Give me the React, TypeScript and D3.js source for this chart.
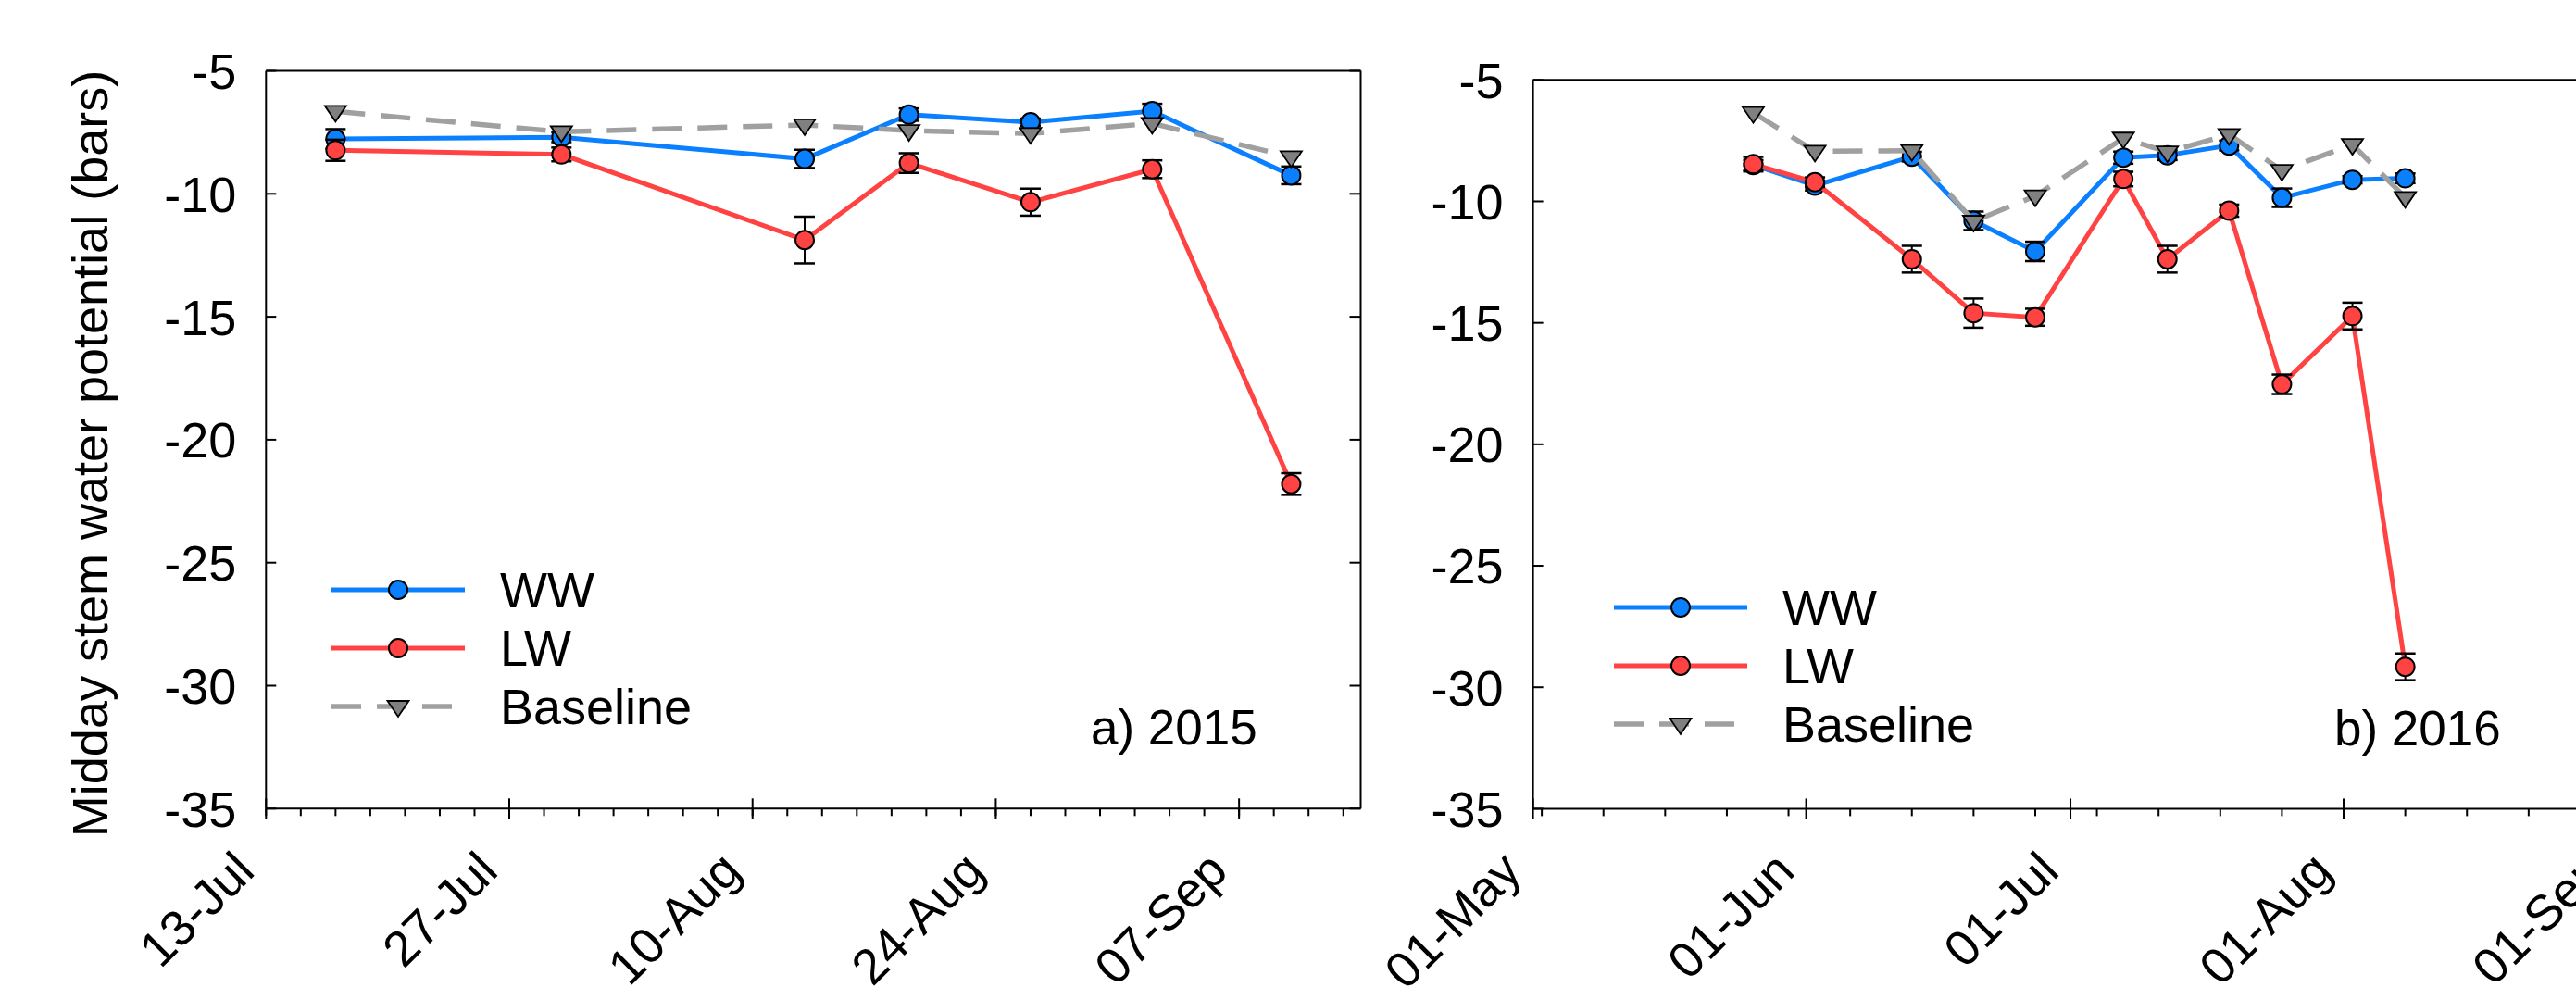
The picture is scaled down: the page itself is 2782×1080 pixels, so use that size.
import React from "react";
import * as d3 from "d3";

const W = 2782;
const H = 1080;
const FONT = "'Liberation Sans', Arial, Helvetica, sans-serif";

const parse = d3.timeParse("%Y-%m-%d");
const fmt = d3.timeFormat("%d-%b");

// 2015 season
const dates2015 = ["2015-07-17", "2015-07-30", "2015-08-13", "2015-08-19", "2015-08-26", "2015-09-02", "2015-09-10"];
const ww2015 = [-7.77, -7.7, -8.58, -6.78, -7.09, -6.64, -9.25];
const ww2015Err = [0.4, 0.2, 0.37, 0.25, 0.15, 0.3, 0.36];
const lw2015 = [-8.23, -8.4, -11.88, -8.75, -10.34, -9.0, -21.8];
const lw2015Err = [0.43, 0.28, 0.95, 0.4, 0.55, 0.36, 0.44];
const base2015 = [-6.65, -7.48, -7.2, -7.43, -7.55, -7.14, -8.5];

// 2016 season
const dates2016 = ["2016-05-26", "2016-06-02", "2016-06-13", "2016-06-20", "2016-06-27", "2016-07-07", "2016-07-12", "2016-07-19", "2016-07-25", "2016-08-02", "2016-08-08"];
const ww2016 = [-8.5, -9.35, -8.16, -10.8, -12.06, -8.2, -8.1, -7.7, -9.85, -9.11, -9.05];
const ww2016Err = [0.2, 0.2, 0.2, 0.38, 0.4, 0.25, 0.2, 0.2, 0.38, 0.15, 0.2];
const lw2016 = [-8.47, -9.21, -12.38, -14.6, -14.77, -9.08, -12.38, -10.38, -17.53, -14.72, -29.16];
const lw2016Err = [0.3, 0.2, 0.55, 0.6, 0.35, 0.3, 0.55, 0.25, 0.4, 0.55, 0.55];
const base2016 = [-6.35, -7.94, -7.91, -10.82, -9.78, -7.4, -7.97, -7.25, -8.73, -7.66, -9.84];

const yTicks = [-35, -30, -25, -20, -15, -10, -5];
const legendNames = ["WW", "LW", "Baseline"];
const yTitle = "Midday stem water potential (bars)";

const WW_COLOR = "#0A80FF";
const LW_COLOR = "#FF4242";
const BASE_COLOR = "#A0A0A0";

type PanelCfg = {
  dates: Date[];
  ww: number[];
  wwErr: number[];
  lw: number[];
  lwErr: number[];
  base: number[];
  domain: [Date, Date];
  major: Date[];
  minor: Date[];
  x0: number;
  x1: number;
  yTop: number;
  yBot: number;
  rightAxis: boolean;
  label: string;
  labelPos: [number, number];
  legendPos: [number, number];
};

const tri = "M-11.5,-6L11.5,-6L0,11Z";

function Panel({ p }: { p: PanelCfg }) {
  const x = d3.scaleTime().domain(p.domain).range([p.x0, p.x1]);
  const y = d3.scaleLinear().domain([-35, -5]).range([p.yBot, p.yTop]);

  const series = [
    { vals: p.ww, err: p.wwErr, color: WW_COLOR, width: 5, dash: null, marker: "circle" },
    { vals: p.lw, err: p.lwErr, color: LW_COLOR, width: 5, dash: null, marker: "circle" },
    { vals: p.base, err: null, color: BASE_COLOR, width: 5.5, dash: "32 17", marker: "tri" },
  ];

  const [lx, ly] = p.legendPos;

  return (
    <g>
      {/* frame */}
      <line x1={p.x0} x2={p.x0} y1={p.yTop} y2={p.yBot} stroke="#000" strokeWidth={2} />
      <line x1={p.x0} x2={p.x1} y1={p.yTop} y2={p.yTop} stroke="#000" strokeWidth={2} />
      <line x1={p.x0} x2={p.x1} y1={p.yBot} y2={p.yBot} stroke="#000" strokeWidth={2} />
      {p.rightAxis && <line x1={p.x1} x2={p.x1} y1={p.yTop} y2={p.yBot} stroke="#000" strokeWidth={2} />}

      {/* y ticks */}
      {yTicks.map((t) => (
        <g key={"y" + t}>
          <line x1={p.x0} x2={p.x0 + 11} y1={y(t)} y2={y(t)} stroke="#000" strokeWidth={2} />
          {p.rightAxis && <line x1={p.x1 - 12} x2={p.x1} y1={y(t)} y2={y(t)} stroke="#000" strokeWidth={2} />}
          <text x={p.x0 - 32} y={y(t)} dy="0.36em" textAnchor="end" fontSize={54} fontFamily={FONT}>
            {t}
          </text>
        </g>
      ))}

      {/* x ticks */}
      {p.minor.map((d, i) => (
        <line key={"m" + i} x1={x(d)} x2={x(d)} y1={p.yBot} y2={p.yBot + 8} stroke="#000" strokeWidth={2} />
      ))}
      {p.major.map((d, i) => (
        <g key={"M" + i}>
          <line x1={x(d)} x2={x(d)} y1={p.yBot - 11} y2={p.yBot + 11} stroke="#000" strokeWidth={2} />
          <text
            transform={`translate(${x(d) - 10},${p.yBot + 70}) rotate(-45)`}
            textAnchor="end"
            fontSize={54}
            fontFamily={FONT}
          >
            {fmt(d)}
          </text>
        </g>
      ))}

      {/* series */}
      {series.map((s, si) => {
        const path = d3
          .line<number>()
          .x((_, i) => x(p.dates[i]))
          .y((v) => y(v))(s.vals);
        return (
          <g key={"s" + si}>
            <path d={path || ""} fill="none" stroke={s.color} strokeWidth={s.width} strokeDasharray={s.dash || undefined} />
            {s.err &&
              s.vals.map((v, i) => {
                const cx = x(p.dates[i]);
                const e = s.err![i];
                return (
                  <g key={"e" + i} stroke="#000">
                    <line x1={cx} x2={cx} y1={y(v + e)} y2={y(v - e)} strokeWidth={2} />
                    <line x1={cx - 11} x2={cx + 11} y1={y(v + e)} y2={y(v + e)} strokeWidth={2.5} />
                    <line x1={cx - 11} x2={cx + 11} y1={y(v - e)} y2={y(v - e)} strokeWidth={2.5} />
                  </g>
                );
              })}
            {s.vals.map((v, i) =>
              s.marker === "circle" ? (
                <circle key={"c" + i} cx={x(p.dates[i])} cy={y(v)} r={10} fill={s.color} stroke="#000" strokeWidth={2} />
              ) : (
                <path key={"t" + i} d={tri} transform={`translate(${x(p.dates[i])},${y(v)})`} fill="#808080" stroke="#000" strokeWidth={1.8} />
              )
            )}
          </g>
        );
      })}

      {/* legend */}
      {series.map((s, i) => {
        const yy = ly + i * 63;
        const len = s.dash ? 130 : 144;
        return (
          <g key={"l" + i}>
            <line x1={lx} x2={lx + len} y1={yy} y2={yy} stroke={s.color} strokeWidth={s.width} strokeDasharray={s.dash || undefined} />
            {s.marker === "circle" ? (
              <circle cx={lx + 72} cy={yy} r={10} fill={s.color} stroke="#000" strokeWidth={2} />
            ) : (
              <path d={tri} transform={`translate(${lx + 72},${yy})`} fill="#808080" stroke="#000" strokeWidth={1.8} />
            )}
            <text x={lx + 182} y={yy} dy="0.36em" fontSize={54} fontFamily={FONT}>
              {legendNames[i]}
            </text>
          </g>
        );
      })}

      <text x={p.labelPos[0]} y={p.labelPos[1]} fontSize={53} fontFamily={FONT}>
        {p.label}
      </text>
    </g>
  );
}

export default function App() {
  const start15 = parse("2015-07-13")!;
  const end15 = parse("2015-09-14")!;
  const start16 = parse("2016-05-01")!;
  const end16 = parse("2016-09-01")!;

  const panelA: PanelCfg = {
    dates: dates2015.map((d) => parse(d)!),
    ww: ww2015,
    wwErr: ww2015Err,
    lw: lw2015,
    lwErr: lw2015Err,
    base: base2015,
    domain: [start15, end15],
    major: d3.timeDay.range(start15, end15, 14),
    minor: d3.timeDay.range(start15, d3.timeDay.offset(end15, 1), 2),
    x0: 287.3,
    x1: 1469.5,
    yTop: 76.5,
    yBot: 873.3,
    rightAxis: true,
    label: "a) 2015",
    labelPos: [1178, 804],
    legendPos: [358, 637],
  };

  const panelB: PanelCfg = {
    dates: dates2016.map((d) => parse(d)!),
    ww: ww2016,
    wwErr: ww2016Err,
    lw: lw2016,
    lwErr: lw2016Err,
    base: base2016,
    domain: [start16, end16],
    major: d3.timeMonth.range(start16, d3.timeDay.offset(end16, 1)),
    minor: d3.timeMonday.range(start16, end16),
    x0: 1655.6,
    x1: 2826,
    yTop: 86.3,
    yBot: 873.4,
    rightAxis: false,
    label: "b) 2016",
    labelPos: [2521, 805],
    legendPos: [1743, 656],
  };

  return (
    <svg
      width={W}
      height={H}
      style={{ position: "absolute", left: 0, top: 0, background: "#fff" }}
      xmlns="http://www.w3.org/2000/svg"
    >
      <rect width={W} height={H} fill="#fff" />
      <Panel p={panelA} />
      <Panel p={panelB} />
      <text transform="translate(116,490) rotate(-90)" textAnchor="middle" fontSize={54} fontFamily={FONT}>
        {yTitle}
      </text>
    </svg>
  );
}
